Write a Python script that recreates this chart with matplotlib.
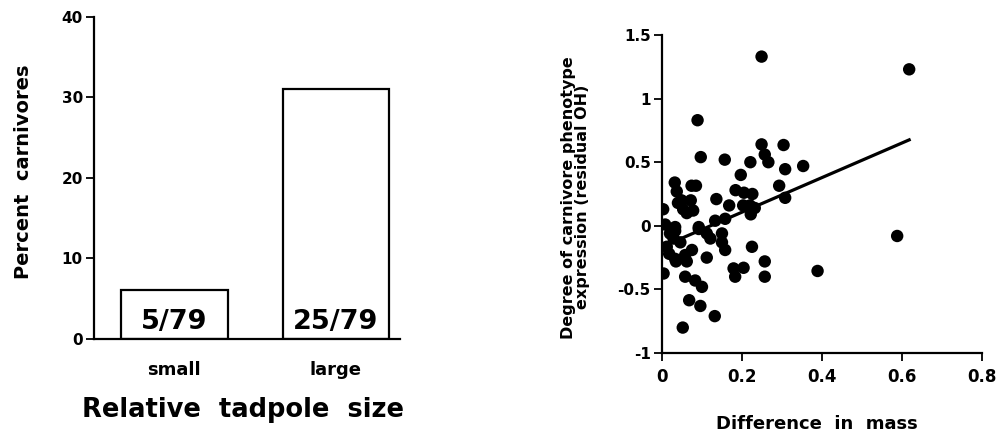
"""
plot.py
Left: percent carnivores by relative tadpole size (bar).
Right: carnivore phenotype expression vs difference in mass (scatter + fit).
"""
import matplotlib
matplotlib.use("Agg")
import matplotlib.pyplot as plt
import numpy as np

plt.rcParams["font.family"] = ["DejaVu Sans"]
plt.rcParams["font.weight"] = "bold"

# ---- bar chart data ----
SIZES      = ["small", "large"]
PCT_CARN   = [6.1, 31.0]
COUNTS     = ["5/79", "25/79"]

# ---- scatter data ----
MASS_DIFF = [
    0.249, 0.618, 0.089, 0.097, 0.157, 0.221, 0.249, 0.257, 0.266, 0.304,
    0.308, 0.353, 0.197, 0.293, 0.308, 0.032, 0.037, 0.074, 0.085, 0.049,
    0.072, 0.053, 0.078, 0.062, 0.136, 0.168, 0.184, 0.205, 0.226, 0.203,
    0.220, 0.232, 0.222, 0.003, 0.008, 0.033, 0.092, 0.133, 0.158, 0.029,
    0.033, 0.012, 0.092, 0.112, 0.121, 0.150, 0.150, 0.158, 0.225, 0.075,
    0.058, 0.033, 0.062, 0.035, 0.046, 0.112, 0.004, 0.058, 0.083, 0.100,
    0.179, 0.204, 0.183, 0.257, 0.257, 0.068, 0.096, 0.132, 0.052, 0.588,
    0.389, 0.020, 0.040, 0.018,
]
RESID_OH = [
    1.33, 1.23, 0.83, 0.54, 0.52, 0.50, 0.64, 0.56, 0.50, 0.635,
    0.445, 0.47, 0.40, 0.315, 0.22, 0.34, 0.27, 0.315, 0.315, 0.20,
    0.20, 0.13, 0.12, 0.10, 0.21, 0.16, 0.28, 0.26, 0.25, 0.16,
    0.16, 0.14, 0.09, 0.13, 0.01, -0.01, -0.01, 0.04, 0.055, -0.10,
    -0.04, -0.165, -0.025, -0.06, -0.10, -0.06, -0.13, -0.19, -0.165, -0.19,
    -0.23, -0.26, -0.28, -0.28, -0.13, -0.25, -0.375, -0.40, -0.43, -0.48,
    -0.335, -0.33, -0.40, -0.28, -0.40, -0.585, -0.63, -0.71, -0.80, -0.08,
    -0.355, -0.06, 0.18, -0.22,
]
FIT_SLOPE, FIT_INTERCEPT = 1.36, -0.165
FIT_X = [0.04, 0.618]

fig = plt.figure(figsize=(10.01, 4.34), dpi=100)

# ---------- left panel ----------
ax1 = fig.add_axes([0.0939, 0.219, 0.3061, 0.742])
x = np.arange(len(SIZES))
bars = ax1.bar(x, PCT_CARN, width=0.66, color="white", edgecolor="black",
               linewidth=1.6)
for bar, lab in zip(bars, COUNTS):
    ax1.text(bar.get_x() + bar.get_width() / 2, 0.5, lab, ha="center",
             va="bottom", fontsize=19.5, fontweight="bold")
ax1.set_xlim(-0.498, 1.40)
ax1.set_ylim(0, 40)
ax1.set_yticks([0, 10, 20, 30, 40])
ax1.set_xticks(x)
ax1.set_xticklabels(SIZES, fontsize=13, fontweight="bold")
ax1.tick_params(axis="x", length=0, pad=16)
ax1.tick_params(axis="y", direction="out", length=6, width=1.3,
                labelsize=11, pad=2)
ax1.spines[["top", "right"]].set_visible(False)
ax1.spines[["left", "bottom"]].set_linewidth(1.6)
ax1.set_ylabel("Percent  carnivores", fontsize=14, fontweight="bold")
ax1.yaxis.set_label_coords(-0.2, 0.52)
ax1.set_xlabel("Relative  tadpole  size", fontsize=18.5, fontweight="bold")
ax1.xaxis.set_label_coords(0.487, -0.18)

# ---------- right panel ----------
ax2 = fig.add_axes([0.6613, 0.1866, 0.3197, 0.7328])
ax2.scatter(MASS_DIFF, RESID_OH, s=80, color="black", edgecolors="none",
            zorder=3)
fx = np.array(FIT_X)
ax2.plot(fx, FIT_INTERCEPT + FIT_SLOPE * fx, color="black", linewidth=2.3,
         zorder=2)
ax2.set_xlim(0, 0.8)
ax2.set_ylim(-1, 1.5)
ax2.set_xticks([0, 0.2, 0.4, 0.6, 0.8])
ax2.set_xticklabels(["0", "0.2", "0.4", "0.6", "0.8"])
ax2.set_yticks([-1, -0.5, 0, 0.5, 1, 1.5])
ax2.set_yticklabels(["-1", "-0.5", "0", "0.5", "1", "1.5"])
ax2.tick_params(axis="both", direction="out", length=6, width=1.3)
ax2.tick_params(axis="x", labelsize=12, pad=5)
ax2.tick_params(axis="y", labelsize=11, pad=2)
for lab in ax2.get_xticklabels() + ax2.get_yticklabels():
    lab.set_fontweight("bold")
ax2.spines[["top", "right"]].set_visible(False)
ax2.spines[["left", "bottom"]].set_linewidth(1.6)
ax2.set_ylabel("Degree of carnivore phenotype\nexpression (residual OH)",
               fontsize=11.5, fontweight="bold", linespacing=0.95)
ax2.yaxis.set_label_coords(-0.225, 0.49)
ax2.set_xlabel("Difference  in  mass", fontsize=13, fontweight="bold")
ax2.xaxis.set_label_coords(0.484, -0.195)

fig.savefig("out.png", dpi=100)
